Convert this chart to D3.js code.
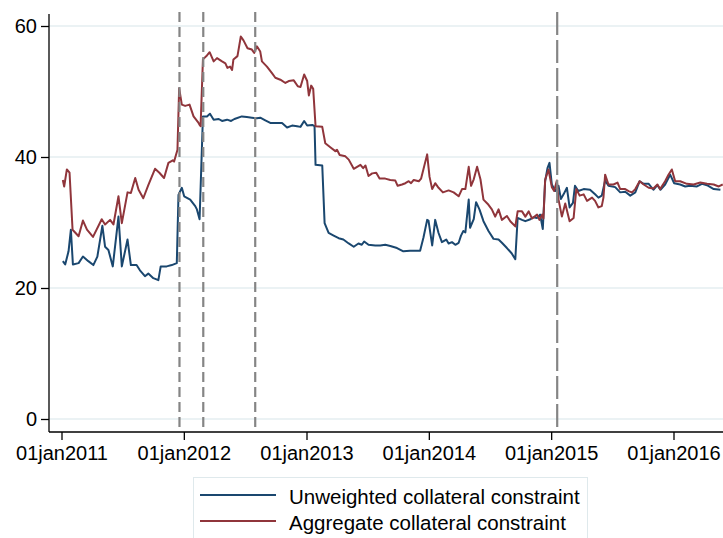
<!DOCTYPE html>
<html>
<head>
<meta charset="utf-8">
<script src="https://cdn.jsdelivr.net/npm/d3@7"></script>
<style>
  html, body { margin: 0; padding: 0; background: #ffffff; }
  svg { display: block; font-family: "Liberation Sans", Arial, sans-serif; }
</style>
</head>
<body>
<svg id="chart" width="723" height="538"></svg>
<script>
// ---------------- data ----------------
const seriesNames = ["Unweighted collateral constraint", "Aggregate collateral constraint"];

const unwDates = ["2011-01-05","2011-01-12","2011-01-22","2011-01-29","2011-02-04","2011-02-21","2011-03-06","2011-03-22","2011-04-06","2011-04-18","2011-05-03","2011-05-11","2011-05-21","2011-06-03","2011-06-20","2011-06-30","2011-07-17","2011-07-27","2011-08-13","2011-08-23","2011-09-07","2011-09-17","2011-10-02","2011-10-17","2011-10-24","2011-11-11","2011-11-26","2011-12-11","2011-12-16","2011-12-26","2012-01-02","2012-01-20","2012-02-04","2012-02-09","2012-02-17","2012-02-27","2012-03-10","2012-03-19","2012-03-30","2012-04-14","2012-04-24","2012-05-09","2012-05-21","2012-05-31","2012-06-22","2012-07-07","2012-07-22","2012-08-06","2012-08-16","2012-08-31","2012-09-15","2012-10-05","2012-10-20","2012-11-04","2012-11-19","2012-12-04","2012-12-14","2012-12-25","2013-01-03","2013-01-18","2013-01-25","2013-01-28","2013-02-17","2013-02-24","2013-03-08","2013-03-23","2013-04-07","2013-04-21","2013-05-07","2013-05-22","2013-06-05","2013-06-15","2013-06-22","2013-07-05","2013-07-25","2013-08-09","2013-08-24","2013-09-08","2013-09-28","2013-10-17","2013-11-06","2013-11-26","2013-12-06","2013-12-16","2013-12-27","2013-12-31","2014-01-11","2014-01-20","2014-01-30","2014-02-09","2014-02-22","2014-03-01","2014-03-11","2014-03-21","2014-03-31","2014-04-07","2014-04-14","2014-04-20","2014-04-30","2014-05-04","2014-05-15","2014-05-22","2014-06-01","2014-06-13","2014-06-28","2014-07-13","2014-07-28","2014-08-07","2014-08-22","2014-09-05","2014-09-16","2014-09-23","2014-10-06","2014-10-16","2014-10-31","2014-11-09","2014-11-20","2014-11-29","2014-12-07","2014-12-14","2014-12-21","2014-12-27","2015-01-03","2015-01-13","2015-01-23","2015-01-30","2015-02-07","2015-02-17","2015-02-25","2015-03-07","2015-03-13","2015-03-23","2015-04-08","2015-04-27","2015-05-12","2015-05-22","2015-06-01","2015-06-11","2015-06-21","2015-07-11","2015-07-26","2015-08-10","2015-08-25","2015-09-09","2015-09-22","2015-10-04","2015-10-19","2015-11-02","2015-11-14","2015-11-23","2015-12-07","2015-12-22","2016-01-03","2016-01-21","2016-02-05","2016-02-19","2016-03-11","2016-03-26","2016-04-10","2016-04-30","2016-05-20"];
const unwValues = [24.1,23.6,25.6,28.9,23.6,23.8,24.8,24.1,23.5,24.8,29.5,26.3,25.8,23.3,30.9,23.3,27.4,23.5,23.5,22.7,21.8,22.2,21.5,21.2,23.3,23.3,23.5,23.8,34.2,35.3,34.0,33.5,32.5,32.0,30.5,46.2,46.2,46.6,45.7,45.8,45.5,45.7,45.5,45.8,46.2,46.1,46.0,45.9,46.0,45.6,45.2,45.2,45.2,44.5,44.8,44.7,44.6,45.5,44.8,44.9,44.7,38.8,38.7,29.9,28.4,28.0,27.6,27.4,26.8,26.3,26.8,26.6,27.1,26.6,26.5,26.5,26.6,26.4,26.1,25.6,25.7,25.7,25.7,27.7,30.4,30.3,26.5,30.4,28.4,27.0,27.4,26.8,27.0,26.6,26.9,28.0,28.7,28.5,33.5,29.2,30.5,33.1,32.0,30.2,28.7,27.5,27.4,26.9,26.1,25.3,24.4,30.7,30.4,30.2,30.5,30.8,30.7,31.2,29.0,36.3,38.3,39.1,35.8,34.8,35.6,33.6,34.3,35.3,32.3,33.0,35.6,34.8,35.1,35.0,34.3,33.8,34.1,36.4,35.6,35.4,34.6,34.7,34.1,34.6,36.3,35.9,35.9,35.0,35.7,35.0,35.8,37.3,36.0,35.8,35.5,35.6,35.5,35.9,35.7,35.1,35.0];

const aggDates = ["2011-01-05","2011-01-09","2011-01-17","2011-01-25","2011-02-03","2011-02-21","2011-03-06","2011-03-18","2011-04-05","2011-05-01","2011-05-11","2011-05-26","2011-06-05","2011-06-20","2011-06-30","2011-07-17","2011-07-27","2011-08-09","2011-08-19","2011-09-02","2011-09-17","2011-10-07","2011-10-20","2011-11-03","2011-11-16","2011-11-29","2011-12-03","2011-12-13","2011-12-18","2011-12-26","2012-01-05","2012-01-18","2012-01-30","2012-02-14","2012-02-17","2012-02-20","2012-02-27","2012-03-10","2012-03-18","2012-03-30","2012-04-09","2012-04-24","2012-05-04","2012-05-10","2012-05-18","2012-05-24","2012-05-28","2012-06-09","2012-06-19","2012-06-27","2012-07-09","2012-07-22","2012-07-29","2012-08-06","2012-08-16","2012-08-21","2012-09-05","2012-09-20","2012-09-30","2012-10-15","2012-10-30","2012-11-09","2012-11-24","2012-12-06","2012-12-14","2012-12-25","2013-01-03","2013-01-08","2013-01-15","2013-01-21","2013-01-28","2013-02-17","2013-02-26","2013-03-13","2013-03-28","2013-04-02","2013-04-10","2013-04-27","2013-05-07","2013-05-22","2013-06-01","2013-06-11","2013-06-19","2013-06-26","2013-07-05","2013-07-16","2013-07-28","2013-08-07","2013-08-24","2013-09-08","2013-09-23","2013-09-30","2013-10-13","2013-10-23","2013-11-02","2013-11-09","2013-11-17","2013-12-02","2013-12-09","2013-12-27","2014-01-03","2014-01-11","2014-01-20","2014-01-30","2014-02-12","2014-03-01","2014-03-16","2014-03-31","2014-04-10","2014-04-20","2014-04-30","2014-05-07","2014-05-15","2014-05-25","2014-06-04","2014-06-13","2014-06-28","2014-07-08","2014-07-18","2014-07-28","2014-08-07","2014-08-22","2014-09-01","2014-09-16","2014-09-23","2014-10-06","2014-10-16","2014-10-26","2014-11-05","2014-11-20","2014-11-27","2014-12-05","2014-12-09","2014-12-14","2014-12-24","2015-01-03","2015-01-10","2015-01-18","2015-01-23","2015-02-02","2015-02-12","2015-02-25","2015-03-09","2015-03-17","2015-03-27","2015-04-08","2015-04-18","2015-05-03","2015-05-12","2015-05-22","2015-06-01","2015-06-06","2015-06-11","2015-06-21","2015-07-06","2015-07-18","2015-07-26","2015-08-10","2015-08-20","2015-08-30","2015-09-09","2015-09-22","2015-10-04","2015-10-19","2015-11-02","2015-11-14","2015-11-22","2015-12-07","2015-12-17","2015-12-27","2016-01-06","2016-01-21","2016-02-10","2016-03-01","2016-03-21","2016-04-10","2016-04-30","2016-05-15","2016-05-27"];
const aggValues = [36.5,35.5,38.1,37.6,28.9,27.9,30.3,28.9,27.8,30.5,29.7,30.4,29.7,34.0,29.9,34.6,34.5,36.8,35.0,33.7,35.7,38.2,37.6,36.8,39.1,39.5,39.3,41.1,50.5,48.0,47.8,48.0,46.2,45.2,44.9,44.7,54.9,55.5,56.0,54.6,55.1,54.6,54.3,53.6,53.8,53.3,54.9,55.4,58.4,57.8,56.6,56.4,55.9,56.9,56.1,54.6,53.8,52.8,52.1,51.8,51.3,51.6,51.7,50.8,50.7,52.6,51.6,49.4,50.9,50.4,44.7,44.6,42.1,41.5,40.9,41.1,40.3,40.1,39.6,38.2,38.5,38.8,38.3,38.7,37.1,37.5,37.6,36.7,36.7,36.5,36.4,35.6,35.8,36.0,36.3,36.0,36.5,36.3,36.7,40.4,37.0,35.1,36.0,35.3,34.6,34.9,34.6,34.0,35.1,35.1,38.5,35.6,36.6,38.5,36.6,33.5,32.7,32.0,30.9,32.0,30.4,31.0,30.2,29.4,31.7,31.7,30.9,31.7,30.6,31.2,30.4,31.2,30.6,36.5,38.1,35.4,34.8,36.4,33.5,30.9,32.9,30.2,30.7,35.1,34.1,34.3,33.3,33.8,33.3,32.3,32.5,33.8,37.3,35.8,35.8,36.1,35.1,35.1,34.8,34.6,35.1,36.3,35.8,35.3,35.2,35.8,35.1,36.3,37.3,38.1,36.3,36.3,35.9,35.8,36.1,35.9,35.8,35.5,35.8];

const eventDates = ["2011-12-19","2012-02-28","2012-08-01","2015-01-19"];
const eventStyles = ["dash","dash","dash","longdash"];
const yTicks = [0, 20, 40, 60];
const xTickDates = ["2011-01-01","2012-01-01","2013-01-01","2014-01-01","2015-01-01","2016-01-01"];
const xTickLabels = ["01jan2011","01jan2012","01jan2013","01jan2014","01jan2015","01jan2016"];

// ---------------- layout ----------------
const W = 723, H = 538;
const axisX = 49, axisY = 432, topY = 14;
const colors = { unw: "#1a476f", agg: "#90353b", grid: "#e4eef0", event: "#858585" };
const dashes = { dash: "10,5", longdash: "23,5" };
const fontSize = 20;

const parse = d3.timeParse("%Y-%m-%d");
const svg = d3.select("#chart");
svg.append("rect").attr("width", W).attr("height", H).attr("fill", "#fff");

const x = d3.scaleTime()
  .domain([parse(xTickDates[0]), parse(xTickDates[5])])
  .range([61.5, 673.5]);
const y = d3.scaleLinear().domain([0, 60]).range([419, 26]);

// grid
svg.append("g").selectAll("line").data(yTicks).join("line")
  .attr("x1", axisX).attr("x2", W)
  .attr("y1", d => y(d)).attr("y2", d => y(d))
  .attr("stroke", colors.grid).attr("stroke-width", 1.6);

// series
const unw = unwDates.map((d, i) => ({ date: parse(d), v: unwValues[i] }));
const agg = aggDates.map((d, i) => ({ date: parse(d), v: aggValues[i] }));
const line = d3.line().x(d => x(d.date)).y(d => y(d.v));

svg.append("path").datum(unw).attr("d", line)
  .attr("fill", "none").attr("stroke", colors.unw).attr("stroke-width", 2)
  .attr("stroke-linejoin", "round");
svg.append("path").datum(agg).attr("d", line)
  .attr("fill", "none").attr("stroke", colors.agg).attr("stroke-width", 2)
  .attr("stroke-linejoin", "round");

// event lines
svg.append("g").selectAll("line").data(eventDates).join("line")
  .attr("x1", d => x(parse(d))).attr("x2", d => x(parse(d)))
  .attr("y1", 12).attr("y2", axisY)
  .attr("stroke", colors.event).attr("stroke-width", 2.2)
  .attr("stroke-dasharray", (d, i) => dashes[eventStyles[i]]);

// y axis
const yAxis = d3.axisLeft(y).tickValues(yTicks).tickSize(8).tickPadding(4).tickFormat(d3.format("d"));
const gy = svg.append("g").attr("transform", `translate(${axisX},0)`).call(yAxis);
gy.select(".domain").attr("d", `M0,${topY}V${axisY}`).attr("stroke", "#000").attr("stroke-width", 1.3);
gy.selectAll(".tick line").attr("stroke", "#000").attr("stroke-width", 1.3);
gy.selectAll(".tick text").attr("font-size", fontSize).attr("fill", "#000")
  .attr("font-family", "'Liberation Sans', Arial, sans-serif");

// x axis
const xAxis = d3.axisBottom(x).tickValues(xTickDates.map(parse)).tickSize(8).tickPadding(6)
  .tickFormat((d, i) => xTickLabels[i]);
const gx = svg.append("g").attr("transform", `translate(0,${axisY})`).call(xAxis);
gx.select(".domain").attr("d", `M${axisX},0H${W}`).attr("stroke", "#000").attr("stroke-width", 1.3);
gx.selectAll(".tick line").attr("stroke", "#000").attr("stroke-width", 1.3);
gx.selectAll(".tick text").attr("font-size", fontSize).attr("fill", "#000")
  .attr("font-family", "'Liberation Sans', Arial, sans-serif");

// legend
const lg = svg.append("g");
lg.append("rect").attr("x", 193.5).attr("y", 477.5).attr("width", 394).attr("height", 70)
  .attr("fill", "#fff").attr("stroke", "#dfe9ec").attr("stroke-width", 1);
const legendItems = [
  { name: seriesNames[0], color: colors.unw },
  { name: seriesNames[1], color: colors.agg }
];
legendItems.forEach((it, i) => {
  const yy = 495 + i * 26;
  lg.append("line").attr("x1", 200).attr("x2", 276).attr("y1", yy).attr("y2", yy)
    .attr("stroke", it.color).attr("stroke-width", 2);
  lg.append("text").attr("x", 289).attr("y", yy + 2).attr("dy", "0.35em")
    .attr("font-size", fontSize + 0.5).attr("fill", "#000").text(it.name);
});
</script>
</body>
</html>
